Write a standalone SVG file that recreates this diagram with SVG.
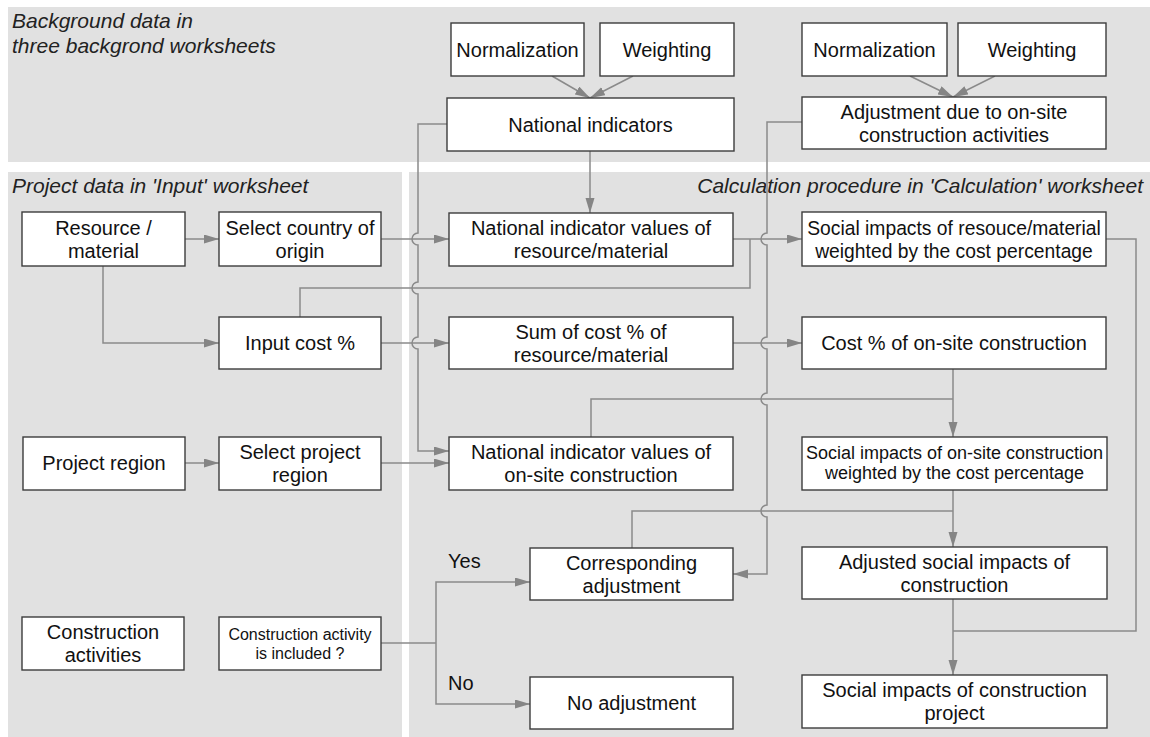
<svg xmlns="http://www.w3.org/2000/svg" width="1150" height="737" viewBox="0 0 1150 737">
<defs>
<marker id="ah" markerUnits="userSpaceOnUse" markerWidth="16" markerHeight="10" refX="15" refY="4.5" orient="auto">
<path d="M0,0 L15,4.5 L0,9 z" fill="#858585"/>
</marker>
<style>
.panel{fill:#e1e1e1}
.box{fill:#ffffff;stroke:#3c3c3c;stroke-width:1.4}
.t{font-family:"Liberation Sans",Arial,sans-serif;font-size:20px;fill:#111;text-anchor:middle}
.s19{font-size:19.3px}
.s18{font-size:18px}
.s16{font-size:16px}
.h{font-family:"Liberation Sans",Arial,sans-serif;font-size:21px;font-style:italic;fill:#222}
.lab{font-family:"Liberation Sans",Arial,sans-serif;font-size:20px;fill:#111}
.c{fill:none;stroke:#8a8a8a;stroke-width:1.5}
.a{marker-end:url(#ah)}
</style>
</defs>
<rect width="1150" height="737" fill="#ffffff"/>
<g id="panels">
<rect class="panel" x="8" y="7" width="1142" height="155"/>
<rect class="panel" x="8" y="172" width="394" height="565"/>
<rect class="panel" x="409" y="172" width="741" height="565"/>
<text class="h" x="12" y="28">Background data in</text>
<text class="h" x="12" y="53">three backgrond worksheets</text>
<text class="h" x="12" y="193">Project data in 'Input' worksheet</text>
<text class="h" x="1143" y="193" text-anchor="end">Calculation procedure in 'Calculation' worksheet</text>
</g>
<g id="connectors">
<path class="c a" d="M552,76 L590,98"/>
<path class="c a" d="M633,76 L590,98"/>
<path class="c a" d="M910,76 L953,97"/>
<path class="c a" d="M995,76 L953,97"/>
<path class="c a" d="M590,151 V213"/>
<path class="c a" d="M447,124 H418 V233 A6,6 0 0 0 418,245 V282 A6,6 0 0 0 418,294 V337 A6,6 0 0 0 418,349 V451 H449"/>
<path class="c a" d="M802,122 H767 V233 A6,6 0 0 0 767,245 V337 A6,6 0 0 0 767,349 V393 A6,6 0 0 0 767,405 V505 A6,6 0 0 0 767,517 V574 H733"/>
<path class="c a" d="M185,239 H219"/>
<path class="c a" d="M381,239 H449"/>
<path class="c a" d="M733,239 H802"/>
<path class="c" d="M300,317 V288 H750 V239"/>
<path class="c a" d="M103,266 V343 H219"/>
<path class="c a" d="M381,343 H449"/>
<path class="c a" d="M733,343 H802"/>
<path class="c a" d="M953,369 V437"/>
<path class="c" d="M591,437 V399 H953"/>
<path class="c a" d="M185,463 H219"/>
<path class="c a" d="M381,463 H449"/>
<path class="c a" d="M953,490 V547"/>
<path class="c" d="M632,548 V511 H953"/>
<path class="c a" d="M953,599 V675"/>
<path class="c" d="M1106,239 H1136 V631 H953"/>
<path class="c" d="M381,643 H436"/>
<path class="c a" d="M436,643 V582 H530"/>
<path class="c a" d="M436,643 V704 H530"/>
<text class="lab" x="448" y="568">Yes</text>
<text class="lab" x="448" y="690">No</text>
</g>
<g id="n-norm1"><rect class="box" x="451" y="23" width="133" height="53"/><text class="t" x="517.5" y="56.5">Normalization</text></g>
<g id="n-weight1"><rect class="box" x="600" y="23" width="134" height="53"/><text class="t" x="667" y="56.5">Weighting</text></g>
<g id="n-natind"><rect class="box" x="447" y="98" width="287" height="53"/><text class="t" x="590.5" y="131.5">National indicators</text></g>
<g id="n-norm2"><rect class="box" x="802" y="23" width="145" height="53"/><text class="t" x="874.5" y="56.5">Normalization</text></g>
<g id="n-weight2"><rect class="box" x="958" y="23" width="148" height="53"/><text class="t" x="1032" y="56.5">Weighting</text></g>
<g id="n-adjust"><rect class="box" x="802" y="97" width="304" height="52"/><text class="t" x="954" y="119">Adjustment due to on-site</text><text class="t" x="954" y="142">construction activities</text></g>
<g id="n-resource"><rect class="box" x="22" y="212" width="163" height="54"/><text class="t" x="103.5" y="235">Resource /</text><text class="t" x="103.5" y="258">material</text></g>
<g id="n-country"><rect class="box" x="219" y="212" width="162" height="54"/><text class="t" x="300" y="235">Select country of</text><text class="t" x="300" y="258">origin</text></g>
<g id="n-nivrm"><rect class="box" x="449" y="213" width="284" height="53"/><text class="t" x="591" y="235">National indicator values of</text><text class="t" x="591" y="258">resource/material</text></g>
<g id="n-sirm"><rect class="box" x="802" y="212" width="304" height="54"/><text class="t s19" x="954" y="235">Social impacts of resouce/material</text><text class="t s19" x="954" y="258">weighted by the cost percentage</text></g>
<g id="n-inputcost"><rect class="box" x="219" y="317" width="162" height="52"/><text class="t" x="300" y="350">Input cost %</text></g>
<g id="n-sum"><rect class="box" x="449" y="317" width="284" height="52"/><text class="t" x="591" y="339">Sum of cost % of</text><text class="t" x="591" y="362">resource/material</text></g>
<g id="n-costos"><rect class="box" x="802" y="317" width="304" height="52"/><text class="t" x="954" y="350">Cost % of on-site construction</text></g>
<g id="n-region"><rect class="box" x="23" y="437" width="162" height="53"/><text class="t" x="104" y="470">Project region</text></g>
<g id="n-selregion"><rect class="box" x="219" y="437" width="162" height="53"/><text class="t" x="300" y="459">Select project</text><text class="t" x="300" y="482">region</text></g>
<g id="n-nivos"><rect class="box" x="449" y="437" width="284" height="53"/><text class="t" x="591" y="459">National indicator values of</text><text class="t" x="591" y="482">on-site construction</text></g>
<g id="n-sios"><rect class="box" x="802" y="437" width="305" height="53"/><text class="t s18" x="954.5" y="459">Social impacts of on-site construction</text><text class="t s18" x="954.5" y="479">weighted by the cost percentage</text></g>
<g id="n-corr"><rect class="box" x="530" y="548" width="203" height="52"/><text class="t" x="631.5" y="570">Corresponding</text><text class="t" x="631.5" y="593">adjustment</text></g>
<g id="n-adjusted"><rect class="box" x="802" y="547" width="305" height="52"/><text class="t" x="954.5" y="569">Adjusted social impacts of</text><text class="t" x="954.5" y="592">construction</text></g>
<g id="n-activities"><rect class="box" x="22" y="617" width="162" height="53"/><text class="t" x="103" y="639">Construction</text><text class="t" x="103" y="662">activities</text></g>
<g id="n-included"><rect class="box" x="219" y="617" width="162" height="53"/><text class="t s16" x="300" y="640">Construction activity</text><text class="t s16" x="300" y="659">is included ?</text></g>
<g id="n-noadj"><rect class="box" x="530" y="677" width="203" height="52"/><text class="t" x="631.5" y="710">No adjustment</text></g>
<g id="n-sicp"><rect class="box" x="802" y="675" width="305" height="53"/><text class="t" x="954.5" y="697">Social impacts of construction</text><text class="t" x="954.5" y="720">project</text></g>
</svg>
